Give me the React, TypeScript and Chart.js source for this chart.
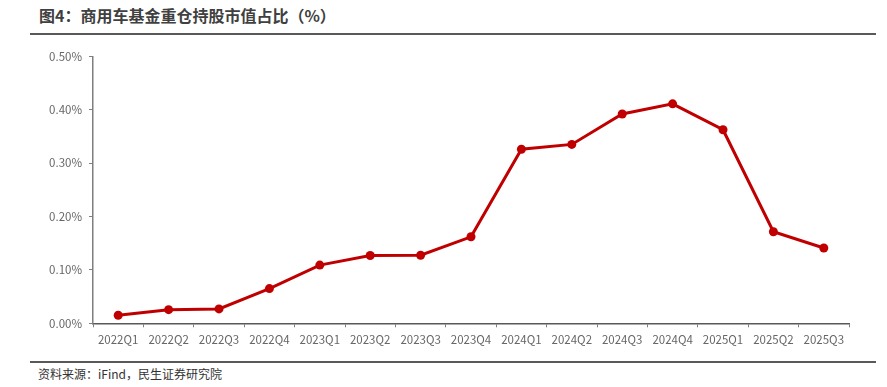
import React, { useEffect, useRef } from "react";
import { Chart, registerables } from "chart.js";

Chart.register(...registerables);

const categories = [
  "2022Q1", "2022Q2", "2022Q3", "2022Q4",
  "2023Q1", "2023Q2", "2023Q3", "2023Q4",
  "2024Q1", "2024Q2", "2024Q3", "2024Q4",
  "2025Q1", "2025Q2", "2025Q3",
];

const shareValues = [
  0.015, 0.0255, 0.027, 0.065,
  0.109, 0.127, 0.1275, 0.162,
  0.326, 0.335, 0.392, 0.411,
  0.3625, 0.1715, 0.141,
];

const yTickValues = [0, 0.1, 0.2, 0.3, 0.4, 0.5];

const titleText = "图4：商用车基金重仓持股市值占比（%）";
const sourceText = "资料来源：iFind，民生证券研究院";

const FONT = "'Noto Sans CJK SC', 'Noto Sans', sans-serif";

export default function App() {
  const canvasRef = useRef<HTMLCanvasElement | null>(null);

  useEffect(() => {
    const canvas = canvasRef.current;
    if (!canvas) return;
    const chart = new Chart(canvas, {
      type: "line",
      data: {
        labels: categories,
        datasets: [
          {
            data: shareValues,
            borderColor: "#C00000",
            backgroundColor: "#C00000",
            borderWidth: 3,
            pointRadius: 4.5,
            pointHoverRadius: 4.5,
            pointBackgroundColor: "#C00000",
            pointBorderColor: "#C00000",
            pointBorderWidth: 0,
            tension: 0,
            fill: false,
          },
        ],
      },
      options: {
        animation: false,
        responsive: false,
        maintainAspectRatio: false,
        layout: { padding: { top: 16.3, right: 38, left: 0, bottom: 0 } },
        plugins: {
          legend: { display: false },
          tooltip: { enabled: false },
          title: { display: false },
        },
        scales: {
          x: {
            type: "category",
            offset: true,
            grid: {
              offset: true,
              drawOnChartArea: false,
              drawTicks: true,
              tickLength: 4,
              color: "#7f7f7f",
            },
            border: { display: true, color: "#595959", width: 1.5 },
            ticks: {
              color: "#666666",
              font: { family: FONT, size: 11.5 },
              padding: 5,
              maxRotation: 0,
              autoSkip: false,
            },
            afterFit: (scale: any) => {
              scale.height = 36.7;
            },
          },
          y: {
            min: 0,
            max: 0.5,
            afterBuildTicks: (scale: any) => {
              scale.ticks = yTickValues.map((v) => ({ value: v }));
            },
            grid: {
              drawOnChartArea: false,
              drawTicks: true,
              tickLength: 4,
              color: "#7f7f7f",
            },
            border: { display: true, color: "#7f7f7f", width: 1.5 },
            ticks: {
              color: "#666666",
              font: { family: FONT, size: 11.5 },
              padding: 7,
              callback: (v: any) => Number(v).toFixed(2) + "%",
            },
            afterFit: (scale: any) => {
              scale.width = 93;
            },
          },
        },
      },
    });
    return () => chart.destroy();
  }, []);

  return (
    <div
      style={{
        position: "absolute",
        left: 0,
        top: 0,
        width: 887,
        height: 387,
        background: "#ffffff",
        fontFamily: FONT,
        overflow: "hidden",
      }}
    >
      <div
        style={{
          position: "absolute",
          left: 39,
          top: 4,
          fontSize: 16,
          fontWeight: 700,
          color: "#404040",
          lineHeight: "23px",
          whiteSpace: "nowrap",
        }}
      >
        {titleText}
      </div>
      <div
        style={{
          position: "absolute",
          left: 30,
          top: 32.5,
          width: 846,
          height: 2,
          background: "#595959",
        }}
      />
      <canvas
        ref={canvasRef}
        width={887}
        height={320}
        style={{ position: "absolute", left: 0, top: 40, width: 887, height: 320 }}
      />
      <div
        style={{
          position: "absolute",
          left: 30,
          top: 361,
          width: 846,
          height: 1.5,
          background: "#595959",
        }}
      />
      <div
        style={{
          position: "absolute",
          left: 38,
          top: 365,
          fontSize: 12,
          color: "#333333",
          lineHeight: "17px",
          whiteSpace: "nowrap",
        }}
      >
        {sourceText}
      </div>
    </div>
  );
}
